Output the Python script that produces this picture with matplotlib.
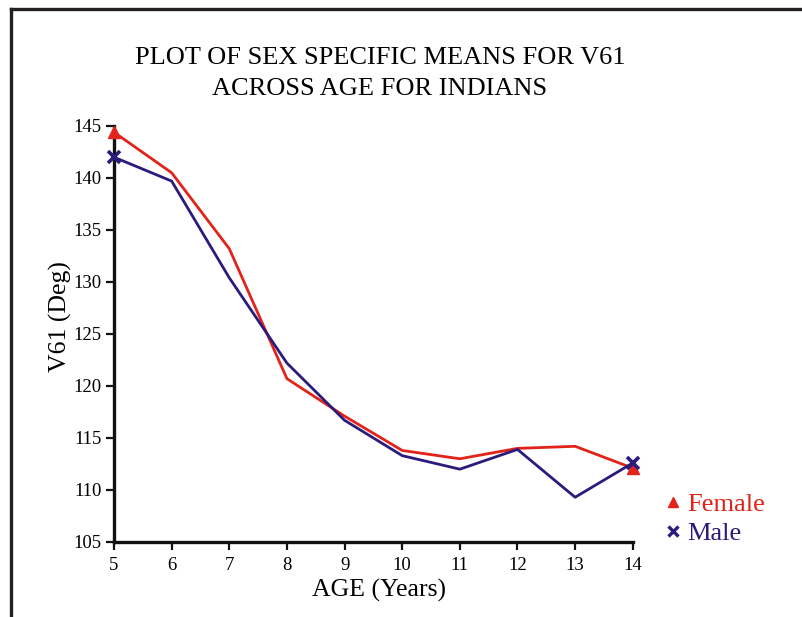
#!/usr/bin/env python3
"""Sex specific means of V61 across age, Indian sample."""
import matplotlib
matplotlib.use("Agg")
import matplotlib.pyplot as plt
from matplotlib.lines import Line2D

AGES = [5, 6, 7, 8, 9, 10, 11, 12, 13, 14]
FEMALE = [144.4, 140.5, 133.2, 120.7, 117.1, 113.8, 113.0, 114.0, 114.2, 112.1]
MALE = [142.0, 139.7, 130.4, 122.2, 116.7, 113.3, 112.0, 113.9, 109.3, 112.6]
Y_TICKS = [105, 110, 115, 120, 125, 130, 135, 140, 145]

RED = "#e2231a"
NAVY = "#2b1b7c"

plt.rcParams["font.family"] = ["Liberation Serif", "DejaVu Serif"]

fig = plt.figure(figsize=(8.03, 6.17), dpi=100)
ax = fig.add_axes([0.142, 0.1216, 0.646, 0.6742])

ax.plot(AGES, FEMALE, color=RED, lw=2.0, marker="^", ms=8,
        markevery=[0, len(AGES) - 1], clip_on=False, zorder=3)
ax.plot(AGES, MALE, color=NAVY, lw=2.0, marker="x", ms=8, mew=2.6,
        markevery=[0, len(AGES) - 1], clip_on=False, zorder=4)

ax.set_xlim(5, 14)
ax.set_ylim(105, 145)
ax.set_xticks(AGES)
ax.set_yticks(Y_TICKS)
ax.tick_params(labelsize=13.5, length=6, width=1.6, direction="out",
               color="#111111")
ax.tick_params(axis="x", pad=5)
ax.tick_params(axis="y", pad=3)
for side in ("top", "right"):
    ax.spines[side].set_visible(False)
for side in ("left", "bottom"):
    ax.spines[side].set_linewidth(2.4)
    ax.spines[side].set_color("#111111")

ax.set_xlabel("AGE (Years)", fontsize=18.5)
ax.xaxis.set_label_coords(0.51, -0.089)
ax.set_ylabel("V61 (Deg)", fontsize=18.5)
ax.yaxis.set_label_coords(-0.081, 0.541)

fig.text(0.473, 0.881, "PLOT OF SEX SPECIFIC MEANS FOR V61\nACROSS AGE FOR INDIANS",
         ha="center", va="center", fontsize=19, linespacing=1.5)

handles = [
    Line2D([], [], color=RED, marker="^", ls="none", ms=7),
    Line2D([], [], color=NAVY, marker="x", ls="none", ms=7, mew=2.4),
]
fig.legend(handles, ["Female", "Male"], loc="center left",
           bbox_to_anchor=(0.812, 0.159), frameon=False, fontsize=19,
           handlelength=0.6, handletextpad=0.25, labelspacing=0.2,
           labelcolor=[RED, NAVY], borderpad=0)

# outer frame: top and left edges only
fig.add_artist(Line2D([0.0135, 1.0], [0.985, 0.985], transform=fig.transFigure,
                      color="#231f20", lw=2.4))
fig.add_artist(Line2D([0.0135, 0.0135], [0.0, 0.985], transform=fig.transFigure,
                      color="#231f20", lw=2.4))

fig.savefig("out.png", dpi=100)
